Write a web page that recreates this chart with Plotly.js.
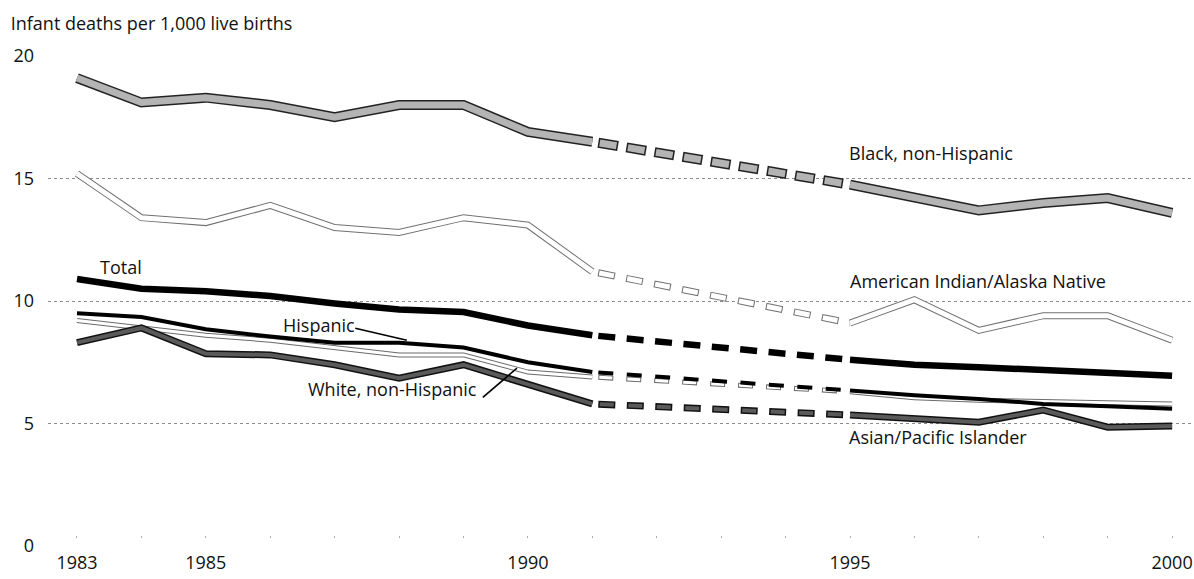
<!DOCTYPE html>
<html>
<head>
<meta charset="utf-8">
<script src="https://cdn.plot.ly/plotly-3.0.1.min.js"></script>
<style>html,body{margin:0;padding:0;background:#fff;}#chart{width:1194px;height:579px;}</style>
</head>
<body>
<div id="chart"></div>
<script>
// ---- data (infant deaths per 1,000 live births) ----
const years = [1983, 1984, 1985, 1986, 1987, 1988, 1989, 1990, 1991, 1995, 1996, 1997, 1998, 1999, 2000];
const blackNH  = [19.1, 18.1, 18.3, 18.0, 17.5, 18.0, 18.0, 16.9, 16.5, 14.75, 14.25, 13.7, 14.0, 14.2, 13.6];
const aian     = [15.2, 13.4, 13.2, 13.9, 13.0, 12.8, 13.4, 13.1, 11.2, 9.1, 10.05, 8.8, 9.4, 9.4, 8.4];
const total    = [10.9, 10.5, 10.4, 10.2, 9.9, 9.65, 9.55, 9.0, 8.6, 7.6, 7.4, 7.3, 7.2, 7.1, 6.95];
const hispanic = [9.5, 9.35, 8.85, 8.55, 8.3, 8.3, 8.1, 7.5, 7.1, 6.35, 6.15, 6.0, 5.8, 5.7, 5.6];
const whiteNH  = [9.2, 8.9, 8.6, 8.4, 8.1, 7.8, 7.8, 7.1, 6.9, 6.3, 6.05, 5.95, 5.9, 5.85, 5.8];
const asianPI  = [8.3, 8.9, 7.85, 7.8, 7.4, 6.85, 7.4, 6.6, 5.8, 5.35, 5.2, 5.05, 5.55, 4.85, 4.9];

const gapStart = 1991, gapEnd = 1995;   // no linked data 1992-1994 (drawn dashed)
const tickYears = [1983,1984,1985,1986,1987,1988,1989,1990,1991,1992,1993,1994,1995,1996,1997,1998,1999,2000];
const tickText  = ['1983','','1985','','','','','1990','','','','','1995','','','','','2000'];
const yTicks = [0, 5, 10, 15, 20];
const yGrid  = [5, 10, 15];

// ---- helpers ----
function solidXY(vals) {
  const x = [], y = [];
  years.forEach((yr, i) => {
    if (yr === gapEnd) { x.push(null); y.push(null); }
    x.push(yr); y.push(vals[i]);
  });
  return {x, y};
}
function dashXY(vals) {
  const a = years.indexOf(gapStart), b = years.indexOf(gapEnd);
  return {x: [years[a], years[b]], y: [vals[a], vals[b]]};
}
const traces = [];
function addSeries(vals, st) {
  const s = solidXY(vals), d = dashXY(vals);
  const base = {type: 'scatter', mode: 'lines', hoverinfo: 'skip', showlegend: false, connectgaps: false};
  if (st.outer) {
    traces.push(Object.assign({}, base, {x: s.x, y: s.y, line: {color: st.outer, width: st.ow}}));
    traces.push(Object.assign({}, base, {x: d.x, y: d.y, line: {color: st.outer, width: st.ow, dash: st.odash}}));
  }
  traces.push(Object.assign({}, base, {x: s.x, y: s.y, line: {color: st.inner, width: st.iw}}));
  traces.push(Object.assign({}, base, {x: d.x, y: d.y, line: {color: st.inner, width: st.iw, dash: st.idash}}));
}

// drawing order (bottom to top)
addSeries(whiteNH,  {outer: '#6a6a6a', ow: 5,   odash: '0px,6px,15px,7px', inner: '#ffffff', iw: 3, idash: '0px,7px,13px,8px'});
addSeries(aian,     {outer: '#707070', ow: 7,   odash: '0px,6px,17px,5.5px', inner: '#ffffff', iw: 5, idash: '0px,7px,15px,6.5px'});
addSeries(asianPI,  {outer: '#111111', ow: 7,   odash: '0px,6px,17px,5.5px', inner: '#5a5a5a', iw: 4, idash: '0px,7.5px,14px,7px'});
addSeries(hispanic, {inner: '#000000', iw: 4, idash: '0px,6px,15px,7.5px'});
addSeries(total,    {inner: '#000000', iw: 6.5, idash: '0px,6px,17px,5.5px'});
addSeries(blackNH,  {outer: '#222222', ow: 10, odash: '0px,6px,20px,2.5px', inner: '#b4b4b4', iw: 7, idash: '0px,7.5px,17px,4px'});

const FONT = '"Open Sans", Lato, sans-serif';
const lab = (text, x, y) => ({text, x, y, xref: 'x', yref: 'y', xanchor: 'left', yanchor: 'middle',
  showarrow: false, font: {family: FONT, size: 18, color: '#111'}});

const layout = {
  width: 1194, height: 579,
  margin: {l: 48, r: 0, t: 56, b: 33},
  paper_bgcolor: '#fff', plot_bgcolor: '#fff',
  title: {text: 'Infant deaths per 1,000 live births', x: 0.009, xref: 'container', xanchor: 'left',
          y: 1 - 24 / 579, yref: 'container', yanchor: 'middle',
          font: {family: FONT, size: 18, color: '#111'}},
  xaxis: {range: [1982.55, 2000.34], tickmode: 'array', tickvals: tickYears, ticktext: tickText,
          ticks: 'outside', ticklen: 2, tickwidth: 1, tickcolor: '#aaa',
          showgrid: false, zeroline: false, showline: false,
          anchor: 'free', position: 0.0224, ticklabelstandoff: 9,
          tickfont: {family: FONT, size: 18, color: '#111'}},
  yaxis: {range: [0, 20], tickmode: 'array', tickvals: yTicks, ticks: '',
          showgrid: false, zeroline: false, showline: false, ticklabelstandoff: 13,
          tickfont: {family: FONT, size: 18, color: '#111'},
          minor: {tickmode: 'array', tickvals: yGrid, showgrid: true, gridcolor: '#8c8c8c', griddash: 'dot', gridwidth: 1, ticks: ''}},
  annotations: [
    lab('Black, non-Hispanic', 1994.96, 16.03),
    lab('American Indian/Alaska Native', 1994.97, 10.81),
    lab('Total', 1983.33, 11.38),
    lab('Hispanic', 1986.16, 9.04),
    lab('White, non-Hispanic', 1986.55, 6.4),
    lab('Asian/Pacific Islander', 1994.96, 4.44)
  ],
  shapes: [
    {type: 'line', xref: 'x', yref: 'y', x0: 1987.32, y0: 8.89, x1: 1988.12, y1: 8.40, line: {color: '#000', width: 1.6}},
    {type: 'line', xref: 'x', yref: 'y', x0: 1989.30, y0: 6.07, x1: 1989.83, y1: 7.26, line: {color: '#000', width: 1.6}}
  ]
};

Plotly.newPlot('chart', traces, layout, {staticPlot: true, displayModeBar: false});
</script>
</body>
</html>
